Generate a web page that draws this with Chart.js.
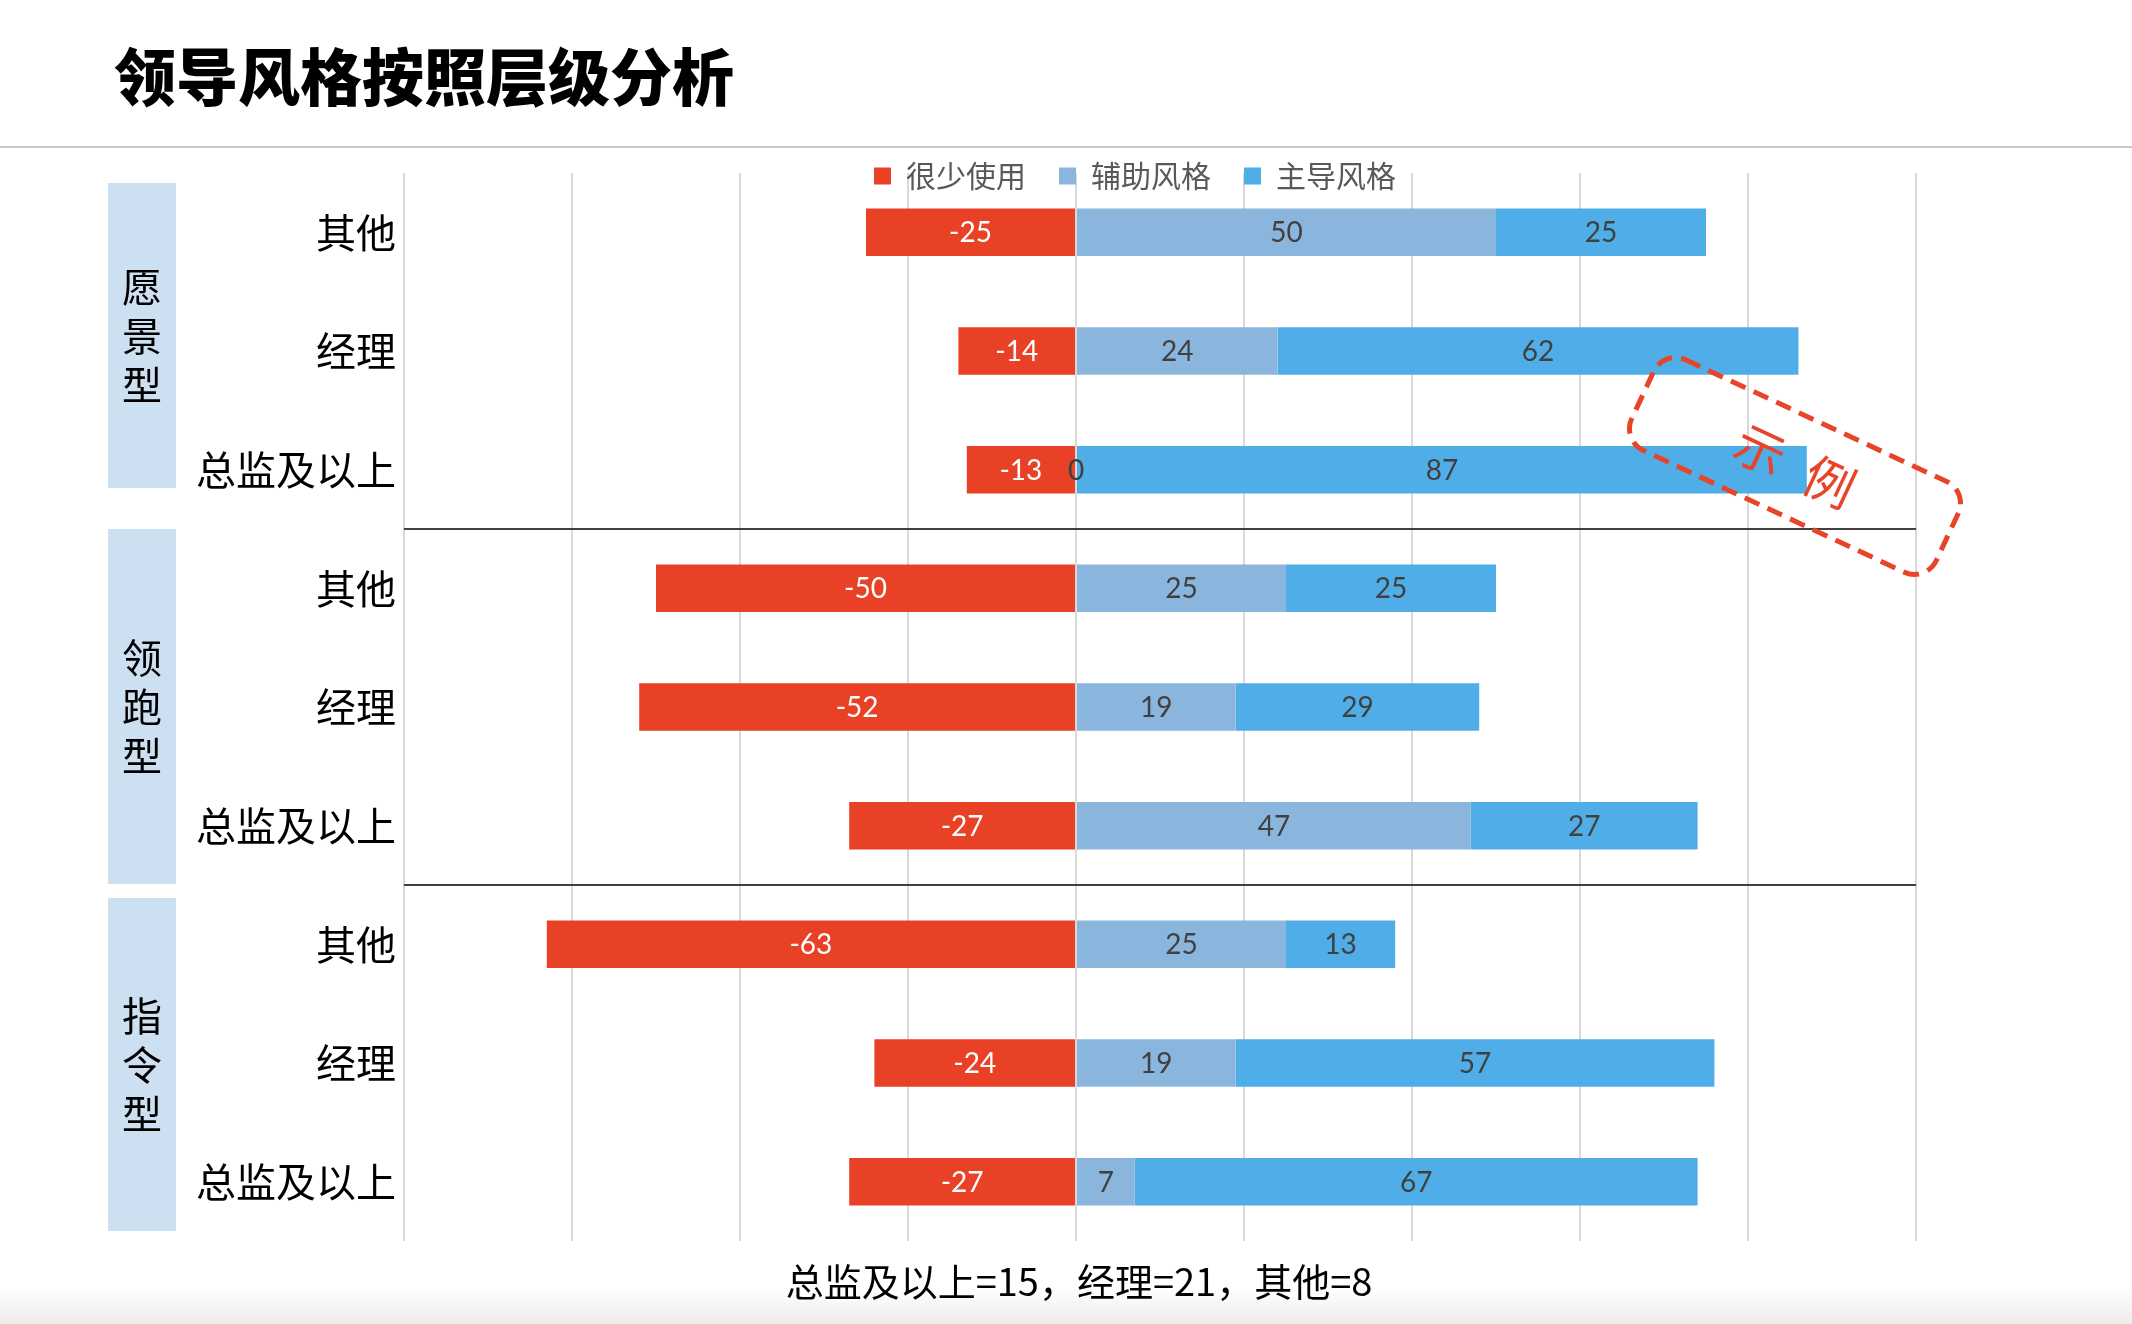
<!DOCTYPE html>
<html>
<head>
<meta charset="utf-8">
<title>领导风格按照层级分析</title>
<script src="https://cdn.jsdelivr.net/npm/chart.js@4.4.0/dist/chart.umd.min.js"></script>
<style>
  html, body { margin: 0; padding: 0; background: #fff; }
  body { width: 2132px; height: 1324px; position: relative; overflow: hidden; font-family: 'Noto Sans CJK SC', sans-serif; }
  #pageTitle { position: absolute; left: 114px; top: 38px; font-size: 62px; line-height: 72px; font-weight: 900; color: #000; }
  #titleRule { position: absolute; left: 0; top: 146px; width: 100%; height: 2px; background: #c8c8c8; }
  #footBand { position: absolute; left: 0; bottom: 0; width: 100%; height: 36px; background: linear-gradient(#ffffff, #ededed); }
  #note { position: absolute; left: 1079px; top: 1254px; transform: translateX(-50%); font-size: 38px; line-height: 52px; color: #000; white-space: nowrap; }
  #chart1 { position: absolute; left: 0; top: 0; }
</style>
</head>
<body>
<div id="footBand"></div>
<canvas id="chart1" width="2132" height="1324"></canvas>
<div id="pageTitle">领导风格按照层级分析</div>
<div id="titleRule"></div>
<div id="note"></div>

<script>
// groups (left panels) and levels (y categories), top to bottom
const GROUPS = ['愿景型', '领跑型', '指令型'];
const LEVELS = ['其他', '经理', '总监及以上'];
const LABELS = GROUPS.flatMap(() => LEVELS);

const SERIES = ['很少使用', '辅助风格', '主导风格'];
const rarelyUsed = [-25, -14, -13, -50, -52, -27, -63, -24, -27];
const supporting = [50, 24, 0, 25, 19, 47, 25, 19, 7];
const dominant   = [25, 62, 87, 25, 29, 27, 13, 57, 67];

const X_MIN = -80, X_MAX = 100, X_STEP = 20;
const NOTE_TEXT = '总监及以上=15，经理=21，其他=8';

const COLORS = ['#e94126', '#8ab6de', '#4fade8'];
const LABEL_COLORS = ['#ffffff', '#404040', '#404040'];
const CJK = '"Noto Sans CJK SC", sans-serif';
// top / bottom inset of each group panel, px
const PANEL_INSET = [[10, 41], [0, 1], [13, 10]];

document.getElementById('note').textContent = NOTE_TEXT;

// light blue boxes with the vertical group names
const groupPanels = {
    id: 'groupPanels',
    beforeDraw(chart) {
        const { ctx, chartArea, scales: { y } } = chart;
        const half = (y.getPixelForTick(1) - y.getPixelForTick(0)) / 2;
        const left = chartArea.left - 296;
        ctx.save();
        GROUPS.forEach((name, g) => {
            const top = y.getPixelForTick(g * 3) - half + PANEL_INSET[g][0];
            const bottom = y.getPixelForTick(g * 3 + 2) + half - PANEL_INSET[g][1];
            ctx.fillStyle = '#cde0f1';
            ctx.fillRect(left, top, 68, bottom - top);
            ctx.fillStyle = '#000';
            ctx.font = '40px ' + CJK;
            ctx.textAlign = 'center';
            ctx.textBaseline = 'middle';
            const mid = (top + bottom) / 2;
            [...name].forEach((ch, i) => ctx.fillText(ch, left + 34, mid + (i - 1) * 49));
        });
        ctx.restore();
    }
};

// numbers inside the bars
const barValues = {
    id: 'barValues',
    afterDatasetsDraw(chart) {
        const { ctx } = chart;
        const zero = chart.scales.x.getPixelForValue(0);
        ctx.save();
        ctx.font = '28px Lato, "Open Sans", sans-serif';
        ctx.textAlign = 'center';
        ctx.textBaseline = 'middle';
        chart.data.datasets.forEach((ds, di) => {
            chart.getDatasetMeta(di).data.forEach((bar, i) => {
                const v = ds.data[i];
                const cx = v === 0 ? zero : (bar.x + bar.base) / 2;
                ctx.fillStyle = LABEL_COLORS[di];
                ctx.fillText(v, cx, bar.y + 1);
            });
        });
        ctx.restore();
    }
};

// red dashed "示例" stamp
const sampleStamp = {
    id: 'sampleStamp',
    afterDraw(chart) {
        const { ctx, chartArea } = chart;
        ctx.save();
        ctx.translate(chartArea.right - 121, chartArea.top + 293);
        ctx.rotate(25 * Math.PI / 180);
        ctx.strokeStyle = '#e8442a';
        ctx.lineWidth = 5;
        ctx.setLineDash([16, 9]);
        ctx.beginPath();
        ctx.roundRect(-168, -50, 336, 100, 24);
        ctx.stroke();
        ctx.fillStyle = '#e8442a';
        ctx.font = '50px ' + CJK;
        ctx.textAlign = 'center';
        ctx.textBaseline = 'middle';
        ctx.fillText('示', -38, 0);
        ctx.fillText('例', 38, 0);
        ctx.restore();
    }
};

// legend sits over the top of the plot area
const legendPlace = {
    id: 'legendPlace',
    afterLayout(chart) {
        const lg = chart.legend, area = chart.chartArea;
        lg.top = area.top - 45;
        lg.bottom = lg.top + lg.height;
        lg.left = area.left;
        lg.right = area.right - 50;
    }
};

const ctx1 = document.getElementById('chart1').getContext('2d');
const chart1 = new Chart(ctx1, {
    type: 'bar',
    data: {
        labels: LABELS,
        datasets: [rarelyUsed, supporting, dominant].map((vals, i) => ({
            label: SERIES[i],
            data: vals,
            backgroundColor: COLORS[i],
            borderWidth: 0,
            barPercentage: 0.4,
            categoryPercentage: 1.0
        }))
    },
    options: {
        responsive: false,
        animation: false,
        indexAxis: 'y',
        layout: { padding: { left: 100, right: 216, top: 100, bottom: 83 } },
        scales: {
            x: {
                stacked: true,
                min: X_MIN,
                max: X_MAX,
                ticks: { display: false, stepSize: X_STEP },
                grid: { color: '#d9d9d9', lineWidth: 2, drawTicks: false },
                border: { display: false },
                afterFit: (s) => { s.height = 0; }
            },
            y: {
                stacked: true,
                ticks: { font: { family: CJK, size: 40 }, color: '#000', padding: 8, autoSkip: false },
                grid: {
                    drawTicks: false,
                    lineWidth: 2,
                    color: (c) => (c.index === 3 || c.index === 6) ? '#404040' : 'rgba(0,0,0,0)'
                },
                border: { display: false },
                afterFit: (s) => { s.width = 304; }
            }
        },
        plugins: {
            legend: {
                position: 'top',
                labels: { font: { family: CJK, size: 30 }, color: '#595959', boxWidth: 17, boxHeight: 17, padding: 33 }
            },
            tooltip: { enabled: false }
        }
    },
    plugins: [groupPanels, barValues, sampleStamp, legendPlace]
});
</script>
</body>
</html>
